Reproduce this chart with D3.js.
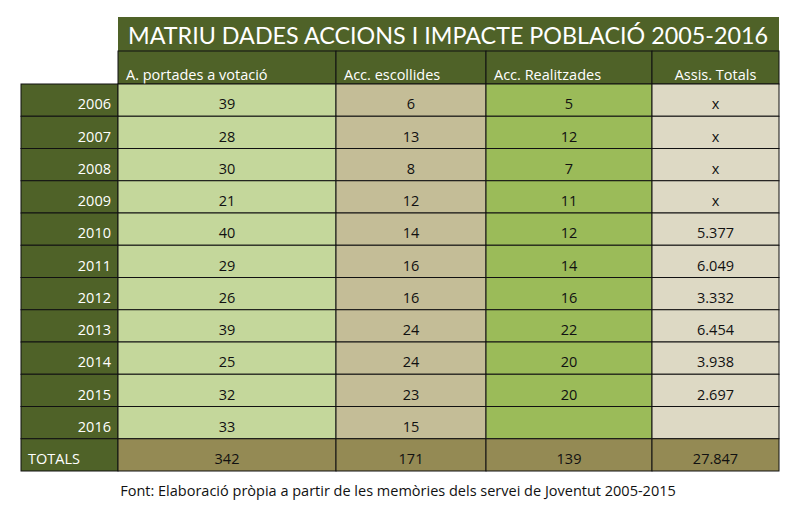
<!DOCTYPE html>
<html>
<head>
<meta charset="utf-8">
<script src="https://cdn.jsdelivr.net/npm/d3@7"></script>
<style>
  body { margin: 0; background: #fff; }
  svg text { font-family: "Open Sans", Lato, sans-serif; }
</style>
</head>
<body>
<svg id="taula" width="793" height="507"></svg>
<script>
// dades de la taula
var titol = "MATRIU DADES ACCIONS I IMPACTE POBLACIÓ 2005-2016";
var capcaleres = ["A. portades a votació", "Acc. escollides", "Acc. Realitzades", "Assis. Totals"];
var anys = ["2006", "2007", "2008", "2009", "2010", "2011", "2012", "2013", "2014", "2015", "2016"];
var portades = [39, 28, 30, 21, 40, 29, 26, 39, 25, 32, 33];
var escollides = [6, 13, 8, 12, 14, 16, 16, 24, 24, 23, 15];
var realitzades = [5, 12, 7, 11, 12, 14, 16, 22, 20, 20, ""];
var assistents = ["x", "x", "x", "x", "5.377", "6.049", "3.332", "6.454", "3.938", "2.697", ""];
var totals = ["342", "171", "139", "27.847"];
var font = "Font: Elaboració pròpia a partir de les memòries dels servei de Joventut 2005-2015";

var svg = d3.select("#taula");

var colors = ["#c4d79b", "#c4bd97", "#9bbb59", "#ddd9c4"],
    fosc = "#4f6228",
    totalColor = "#948a54";

// columnes: etiqueta + 4 columnes de dades
var vores = [21, 118, 336, 486, 652, 779];
var x = d3.scaleOrdinal().domain([-1, 0, 1, 2, 3]).range(vores.slice(0, 5));
function amplada(i) { return vores[i + 2] - vores[i + 1]; }

var files = anys.concat(["TOTALS"]);
var y = d3.scaleBand().domain(files).range([84, 471]);

// títol
svg.append("rect")
    .attr("x", vores[1]).attr("y", 17)
    .attr("width", vores[5] - vores[1]).attr("height", 34)
    .attr("fill", fosc);
svg.append("text")
    .attr("x", 128).attr("y", 44)
    .attr("fill", "#fff")
    .style("font-family", "Lato, sans-serif")
    .style("font-size", "23px")
    .attr("textLength", 640)
    .attr("lengthAdjust", "spacingAndGlyphs")
    .text(titol);

// capçaleres
var cap = svg.append("g");
cap.selectAll("rect").data(capcaleres).join("rect")
    .attr("x", function(d, i) { return x(i); })
    .attr("y", 51)
    .attr("width", function(d, i) { return amplada(i); })
    .attr("height", 33)
    .attr("fill", fosc)
    .attr("stroke", "#111").attr("stroke-width", 1);
cap.selectAll("text").data(capcaleres).join("text")
    .attr("x", function(d, i) { return i == 3 ? x(i) + amplada(i) / 2 : x(i) + 8; })
    .attr("y", 80)
    .attr("text-anchor", function(d, i) { return i == 3 ? "middle" : "start"; })
    .attr("fill", "#fff")
    .style("font-size", "14.5px")
    .text(function(d) { return d; });

// cos de la taula
var columnes = [portades, escollides, realitzades, assistents];
var cos = svg.append("g");
files.forEach(function(f, r) {
  var fila = cos.append("g");
  var esTotal = f == "TOTALS";
  fila.append("rect")
      .attr("x", vores[0]).attr("y", y(f))
      .attr("width", vores[1] - vores[0]).attr("height", y.bandwidth())
      .attr("fill", fosc).attr("stroke", "#111");
  fila.append("text")
      .attr("x", esTotal ? 28 : 111)
      .attr("y", y(f) + y.bandwidth() - 7)
      .attr("text-anchor", esTotal ? "start" : "end")
      .attr("fill", "#fff")
      .style("font-size", "14.5px")
      .text(f);
  var valors = esTotal ? totals : columnes.map(function(c) { return c[r]; });
  fila.selectAll("rect.cel").data(valors).join("rect")
      .attr("class", "cel")
      .attr("x", function(d, i) { return x(i); })
      .attr("y", y(f))
      .attr("width", function(d, i) { return amplada(i); })
      .attr("height", y.bandwidth())
      .attr("fill", function(d, i) { return esTotal ? totalColor : colors[i]; })
      .attr("stroke", "#111");
  fila.selectAll("text.val").data(valors).join("text")
      .attr("class", "val")
      .attr("x", function(d, i) { return x(i) + amplada(i) / 2; })
      .attr("y", y(f) + y.bandwidth() - 7)
      .attr("text-anchor", "middle")
      .attr("fill", "#111")
      .style("font-size", "14.5px")
      .text(function(d) { return d; });
});

// font
svg.append("text")
    .attr("x", 398).attr("y", 496)
    .attr("text-anchor", "middle")
    .attr("fill", "#111")
    .style("font-size", "14.5px")
    .text(font);
</script>
</body>
</html>
